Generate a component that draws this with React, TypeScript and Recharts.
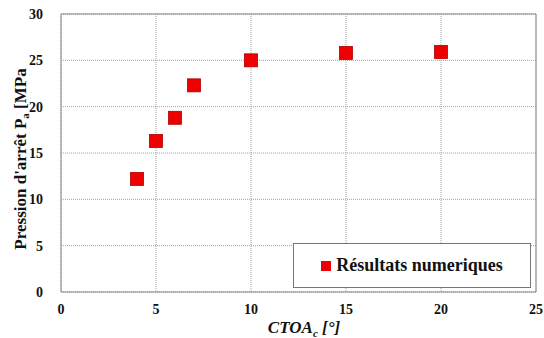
import React from 'react';
import {
  ScatterChart,
  Scatter,
  XAxis,
  YAxis,
  CartesianGrid,
  ReferenceLine,
  Label,
} from 'recharts';

// CTOA_c [°]
const ctoa = [4, 5, 6, 7, 10, 15, 20];
// Pression d'arrêt [MPa]
const pression = [12.2, 16.3, 18.8, 22.3, 25.0, 25.8, 25.9];

const xTicks = [0, 5, 10, 15, 20, 25];
const yTicks = [0, 5, 10, 15, 20, 25, 30];

const data = ctoa.map((x, i) => ({ x, y: pression[i] }));

const FONT = '"Liberation Serif", "Times New Roman", serif';
const RED = '#ee0000';
const AXIS = '#8a8a8a';

const SquareDot = (props: any) => {
  const { cx, cy } = props;
  if (cx == null || cy == null) return null;
  return (
    <rect
      x={cx - 6.5}
      y={cy - 6.5}
      width={13}
      height={13}
      fill={RED}
      stroke="#b00000"
      strokeWidth={0.8}
    />
  );
};

// legend box sits inside the plot, bottom right, like the original
const LegendBox = () => (
  <div
    style={{
      position: 'absolute',
      left: 293,
      top: 243,
      width: 238,
      height: 45,
      border: '1.5px solid #777',
      background: '#fff',
      display: 'flex',
      alignItems: 'center',
      justifyContent: 'center',
      fontFamily: FONT,
      fontWeight: 'bold',
      fontSize: 18,
      color: '#111',
      boxSizing: 'border-box',
    }}
  >
    <span
      style={{
        display: 'inline-block',
        width: 10,
        height: 10,
        background: RED,
        marginRight: 5,
      }}
    />
    Résultats numeriques
  </div>
);

const YTitle = () => (
  <text
    x={22}
    y={159}
    transform="rotate(-90 22 159)"
    textAnchor="middle"
    dominantBaseline="middle"
    fontFamily={FONT}
    fontWeight="bold"
    fontSize={17}
    fill="#111"
  >
    Pression d'arrêt P
    <tspan fontSize={11} dy={4}>a</tspan>
    <tspan dy={-4}> [MPa</tspan>
  </text>
);

const XTitle = () => (
  <text
    x={304}
    y={333}
    textAnchor="middle"
    fontFamily={FONT}
    fontWeight="bold"
    fontStyle="italic"
    fontSize={17}
    fill="#111"
  >
    CTOA
    <tspan fontSize={11} dy={4}>c</tspan>
    <tspan dy={-4}> [°]</tspan>
  </text>
);

export default function App() {
  const tickStyle = {
    fontFamily: FONT,
    fontWeight: 'bold' as const,
    fontSize: 14,
    fill: '#111',
  };

  return (
    <div
      style={{
        position: 'absolute',
        left: 0,
        top: 0,
        width: 544,
        height: 338,
        background: '#fff',
      }}
    >
      <ScatterChart
        width={544}
        height={338}
        margin={{ top: 14, right: 8, bottom: 16, left: 21 }}
      >
        <CartesianGrid stroke="#a0a0a0" strokeDasharray="1 1" />
        <XAxis
          type="number"
          dataKey="x"
          domain={[0, 25]}
          ticks={xTicks}
          height={30}
          stroke={AXIS}
          tickLine={false}
          tick={tickStyle}
          tickMargin={6}
        >
          <Label content={<XTitle />} />
        </XAxis>
        <YAxis
          type="number"
          dataKey="y"
          domain={[0, 30]}
          ticks={yTicks}
          width={40}
          stroke={AXIS}
          tickLine={false}
          tick={tickStyle}
          tickMargin={12}
        >
          <Label content={<YTitle />} />
        </YAxis>
        <ReferenceLine y={30} stroke={AXIS} />
        <ReferenceLine x={25} stroke={AXIS} />
        <Scatter
          name="Résultats numeriques"
          data={data}
          shape={<SquareDot />}
          isAnimationActive={false}
        />
      </ScatterChart>
      <LegendBox />
    </div>
  );
}
